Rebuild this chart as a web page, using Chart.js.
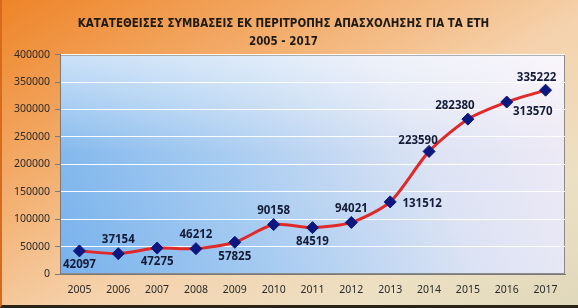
<!DOCTYPE html>
<html>
<head>
<meta charset="utf-8">
<script src="https://cdn.jsdelivr.net/npm/chart.js@4/dist/chart.umd.min.js"></script>
<style>
  html, body { margin: 0; padding: 0; }
  #wrap {
    position: relative;
    width: 578px;
    height: 308px;
    box-sizing: border-box;
    border-left: 2px solid #d86a1c;
    border-bottom: 3px solid #2a2418;
    background: linear-gradient(150deg, #ee8428 0%, #f3ad6c 30%, #f5d2ac 55%, #ece0c4 80%, #e0d8bc 100%);
  }
</style>
</head>
<body>
<div id="wrap"><canvas id="chart" width="576" height="305"></canvas></div>
<script>
// 데이터
const years = ['2005', '2006', '2007', '2008', '2009', '2010', '2011', '2012', '2013', '2014', '2015', '2016', '2017'];
const contracts = [42097, 37154, 47275, 46212, 57825, 90158, 84519, 94021, 131512, 223590, 282380, 313570, 335222];
const yTicks = [0, 50000, 100000, 150000, 200000, 250000, 300000, 350000, 400000];
const titleLines = ['ΚΑΤΑΤΕΘΕΙΣΕΣ ΣΥΜΒΑΣΕΙΣ ΕΚ ΠΕΡΙΤΡΟΠΗΣ ΑΠΑΣΧΟΛΗΣΗΣ ΓΙΑ ΤΑ ΕΤΗ', '2005 - 2017'];

// 라벨 위치 (포인트 기준 오프셋, px)
const labelOffsets = [
    [0, 14], [0, -14], [0, 14], [0, -14], [0, 14], [0, -14], [0, 14],
    [0, -14], [32, 2], [-11, -11], [-13, -13], [26, 10], [-9, -12]
];

const FONT = '"Liberation Sans Narrow", "DejaVu Sans Condensed", "Noto Sans", sans-serif';
const TICK_FONT = '"Noto Sans", "DejaVu Sans", sans-serif';

// 플롯 영역 그라데이션 배경
const plotBackground = {
    id: 'plotBackground',
    beforeDraw(chart) {
        const { ctx, chartArea: a } = chart;
        ctx.save();
        const g = ctx.createLinearGradient(a.left, a.bottom, a.right, a.top);
        g.addColorStop(0, '#78b2ec');
        g.addColorStop(0.35, '#a6cbf1');
        g.addColorStop(0.7, '#dce3f4');
        g.addColorStop(1, '#f3ebf6');
        ctx.fillStyle = g;
        ctx.fillRect(a.left, a.top, a.right - a.left, a.bottom - a.top);
        const w = ctx.createLinearGradient(0, a.top, 0, a.bottom);
        w.addColorStop(0, 'rgba(255,255,255,0.55)');
        w.addColorStop(0.45, 'rgba(255,255,255,0)');
        ctx.fillStyle = w;
        ctx.fillRect(a.left, a.top, a.right - a.left, a.bottom - a.top);
        ctx.strokeStyle = '#8a8a8a';
        ctx.lineWidth = 1;
        ctx.strokeRect(a.left + 0.5, a.top + 0.5, a.right - a.left - 1, a.bottom - a.top - 1);
        ctx.restore();
    }
};

// 데이터 라벨
const valueLabels = {
    id: 'valueLabels',
    afterDatasetsDraw(chart) {
        const { ctx } = chart;
        const meta = chart.getDatasetMeta(0);
        ctx.save();
        ctx.font = 'bold 11.5px ' + TICK_FONT;
        ctx.fillStyle = '#141b38';
        ctx.textAlign = 'center';
        ctx.textBaseline = 'middle';
        meta.data.forEach((pt, i) => {
            const [dx, dy] = labelOffsets[i];
            ctx.fillText(String(contracts[i]), pt.x + dx, pt.y + dy);
        });
        ctx.restore();
    }
};

new Chart(document.getElementById('chart'), {
    type: 'line',
    data: {
        labels: years,
        datasets: [{
            data: contracts,
            borderColor: '#e02a2a',
            borderWidth: 3,
            tension: 0.25,
            pointStyle: 'rectRot',
            pointRadius: 6,
            pointBackgroundColor: '#0c1880',
            pointBorderColor: '#0c1880',
            pointBorderWidth: 1
        }]
    },
    options: {
        responsive: false,
        animation: false,
        layout: { padding: { top: 0, right: 13, bottom: 0, left: 0 } },
        plugins: {
            legend: { display: false },
            tooltip: { enabled: false },
            title: {
                display: true,
                text: titleLines,
                color: '#1e1a14',
                font: { family: FONT, size: 11.5, weight: 'bold', lineHeight: 1.55 },
                padding: { top: 15, bottom: 4 }
            }
        },
        scales: {
            x: {
                offset: true,
                grid: { display: false, drawTicks: true, tickLength: 5, offset: true, color: '#7a7a7a' },
                border: { color: '#7a7a7a' },
                ticks: { color: '#2a2a2a', font: { family: TICK_FONT, size: 10.5 }, padding: 5 },
                afterFit: s => { s.height = 31; }
            },
            y: {
                min: 0,
                max: 400000,
                afterBuildTicks: s => { s.ticks = yTicks.map(v => ({ value: v })); },
                grid: { color: 'rgba(255,255,255,0.95)', lineWidth: 1, tickLength: 5, tickColor: '#7a7a7a', drawOnChartArea: true },
                border: { color: '#7a7a7a' },
                ticks: { color: '#2a2a2a', font: { family: TICK_FONT, size: 10.5 }, padding: 5, callback: v => String(v) },
                afterFit: s => { s.width = 58; }
            }
        }
    },
    plugins: [plotBackground, valueLabels]
});
</script>
</body>
</html>
